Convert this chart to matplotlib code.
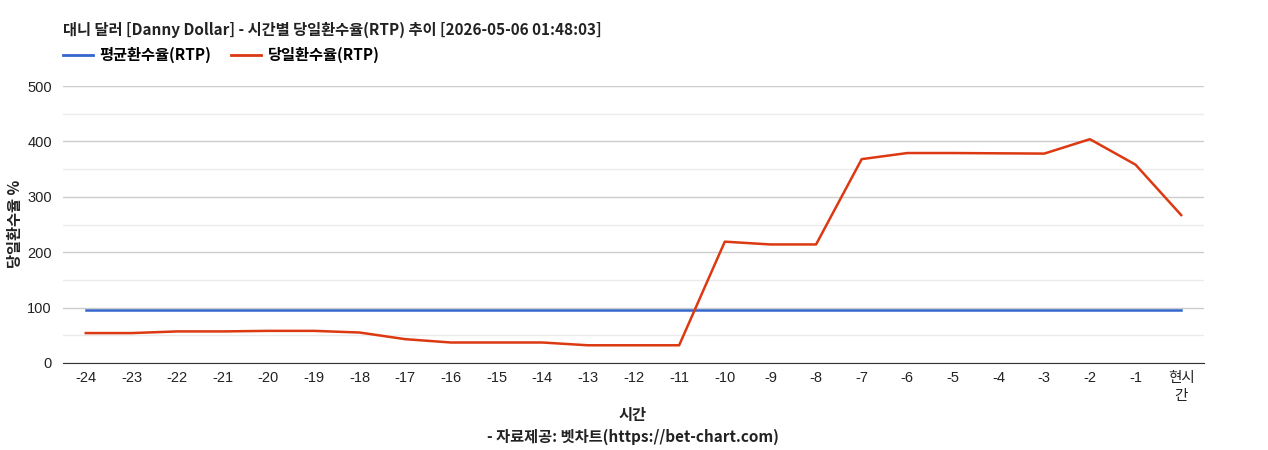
import matplotlib
matplotlib.use('Agg')
import matplotlib.pyplot as plt
from matplotlib.lines import Line2D

# 시간 (hours before now)
hours = ['-24', '-23', '-22', '-21', '-20', '-19', '-18', '-17', '-16', '-15',
         '-14', '-13', '-12', '-11', '-10', '-9', '-8', '-7', '-6', '-5',
         '-4', '-3', '-2', '-1', '현시\n간']
# 당일환수율 (RTP) per hour
daily_rtp = [54, 54, 57, 57, 58, 58, 55, 43, 37, 37,
             37, 32, 32, 32, 219, 214, 214, 368, 379, 379,
             378.5, 378, 404, 358, 267]
# 평균환수율 (RTP)
avg_rtp = [96] * len(hours)

title = '대니 달러 [Danny Dollar] - 시간별 당일환수율(RTP) 추이 [2026-05-06 01:48:03]'
blue = '#3366cc'
red = '#dc3912'
kr = ['Noto Sans CJK KR', 'DejaVu Sans']
tick_font = ['Liberation Sans', 'Noto Sans CJK KR']

fig = plt.figure(figsize=(12.68, 4.5), dpi=100)
ax = fig.add_axes([63 / 1268, 1 - 363 / 450, (1204 - 63) / 1268, (363 - 86) / 450])

x = list(range(len(hours)))
ax.plot(x, avg_rtp, color=blue, lw=1.8, zorder=3)
ax.plot(x, daily_rtp, color=red, lw=1.8, zorder=4)

ax.set_xlim(-0.5, len(hours) - 0.5)
ax.set_ylim(0, 500)
ax.set_yticks([0, 100, 200, 300, 400, 500])
ax.set_yticks([50, 150, 250, 350, 450], minor=True)
ax.grid(axis='y', which='major', color='#cccccc', lw=1)
ax.grid(axis='y', which='minor', color='#ebebeb', lw=1)
ax.set_axisbelow(True)
ax.set_xticks(x)
ax.set_xticklabels(hours, family=tick_font, fontsize=10.5, linespacing=1.35)
for lbl in ax.get_yticklabels():
    lbl.set_family(tick_font)
    lbl.set_fontsize(10.5)
ax.tick_params(axis='both', which='both', length=0, colors='#222222')
ax.tick_params(axis='x', pad=6)
ax.tick_params(axis='y', pad=8)
for side in ['top', 'right', 'left']:
    ax.spines[side].set_visible(False)
ax.spines['bottom'].set_color('#333333')

fig.text(63 / 1268, 1 - 30 / 450, title, family=kr, fontsize=11, fontweight='bold',
         va='center', ha='left', color='#222222')

handles = [Line2D([0], [0], color=blue, lw=2), Line2D([0], [0], color=red, lw=2)]
fig.legend(handles, ['평균환수율(RTP)', '당일환수율(RTP)'], loc='center left',
           bbox_to_anchor=(63 / 1268, 1 - 55 / 450), ncol=2, frameon=False,
           prop={'family': kr, 'size': 11, 'weight': 'bold'}, borderpad=0,
           borderaxespad=0, handlelength=1.95, handletextpad=0.45, columnspacing=1.3)

fig.text(15 / 1268, 1 - 224 / 450, '당일환수율 %', family=kr, fontsize=11,
         fontweight='bold', rotation=90, va='center', ha='center', color='#222222')
fig.text(633 / 1268, 1 - 415 / 450, '시간', family=kr, fontsize=11,
         fontweight='bold', va='center', ha='center', color='#222222')
fig.text(633 / 1268, 1 - 437 / 450, '- 자료제공: 벳차트(https://bet-chart.com)', family=kr,
         fontsize=11, fontweight='bold', va='center', ha='center', color='#222222')

fig.savefig('out.png', dpi=100)
